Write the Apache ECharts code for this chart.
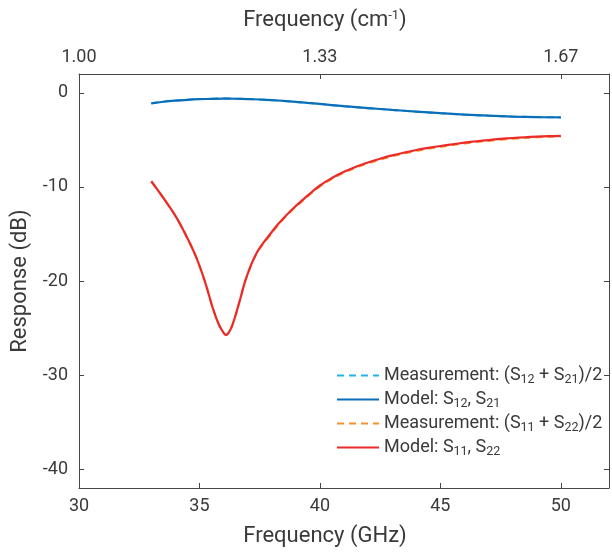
<!DOCTYPE html>
<html>
<head>
<meta charset="utf-8">
<script src="https://cdn.jsdelivr.net/npm/echarts@6/dist/echarts.min.js"></script>
<style>
html,body{margin:0;padding:0;background:#fff;}
#chart{width:612px;height:554px;}
</style>
</head>
<body>
<div id="chart"></div>
<script>
// ---- data (GHz, dB) ----
const blueModelFreq = [33.0,33.5,34.0,34.5,35.0,35.5,36.0,36.5,37.0,37.5,38.0,38.5,39.0,39.5,40.0,41.0,42.0,43.0,44.0,45.0,46.0,47.0,48.0,49.0,50.0];
const blueModelVal  = [-1.12,-0.95,-0.83,-0.74,-0.68,-0.64,-0.62,-0.63,-0.66,-0.71,-0.78,-0.86,-0.96,-1.07,-1.18,-1.42,-1.62,-1.82,-1.99,-2.16,-2.31,-2.42,-2.52,-2.58,-2.62];
const blueMeasFreq  = [33.0,33.5,34.0,34.5,35.0,35.5,36.0,36.5,37.0,37.5,38.0,38.5,39.0,39.5,40.0,41.0,42.0,43.0,44.0,45.0,46.0,47.0,48.0,49.0,50.0];
const blueMeasVal   = [-1.10,-0.94,-0.82,-0.73,-0.67,-0.63,-0.61,-0.62,-0.66,-0.71,-0.78,-0.87,-0.97,-1.08,-1.19,-1.43,-1.63,-1.83,-2.00,-2.17,-2.31,-2.43,-2.52,-2.58,-2.61];
const redModelFreq  = [33.0,33.3,33.7,34.1,34.5,34.9,35.25,35.55,35.8,36.0,36.1,36.2,36.35,36.6,36.875,37.0,37.15,37.3,37.45,37.65,37.85,38.25,38.8,39.5,40.0,40.5,41.0,41.5,42.0,42.5,43.0,43.5,44.0,44.5,45.0,45.5,46.0,46.5,47.0,47.5,48.0,48.5,49.0,49.5,50.0];
const redModelVal   = [-9.4,-10.45,-11.9,-13.5,-15.45,-17.7,-20.25,-22.85,-24.6,-25.5,-25.75,-25.55,-24.8,-22.75,-20.2,-19.25,-18.25,-17.4,-16.7,-15.95,-15.3,-14.0,-12.5,-10.9,-9.85,-9.05,-8.4,-7.85,-7.4,-7.0,-6.65,-6.35,-6.08,-5.85,-5.65,-5.47,-5.3,-5.15,-5.02,-4.9,-4.8,-4.72,-4.66,-4.61,-4.57];
const redMeasFreq   = [33.0,33.3,33.7,34.1,34.5,34.9,35.25,35.55,35.8,36.0,36.1,36.2,36.35,36.6,36.875,37.0,37.15,37.3,37.45,37.65,37.85,38.25,38.8,39.5,40.0,40.5,41.0,41.5,42.0,42.5,43.0,43.5,44.0,44.5,45.0,45.5,46.0,46.5,47.0,47.5,48.0,48.5,49.0,49.5,50.0];
const redMeasVal    = [-9.4,-10.45,-11.9,-13.5,-15.45,-17.7,-20.25,-22.85,-24.6,-25.5,-25.7,-25.5,-24.8,-22.75,-20.2,-19.25,-18.3,-17.45,-16.75,-16.05,-15.4,-14.1,-12.6,-11.0,-9.95,-9.15,-8.5,-7.95,-7.5,-7.1,-6.75,-6.45,-6.18,-5.95,-5.75,-5.56,-5.39,-5.24,-5.11,-4.99,-4.89,-4.8,-4.73,-4.68,-4.63];

const seriesNames = [
  'Measurement: (S12 + S21)/2',
  'Model: S12, S21',
  'Measurement: (S11 + S22)/2',
  'Model: S11, S22'
];
const legendRich = [
  '{t|Measurement: (S}{s|12}{t| + S}{s|21}{t|)/2}',
  '{t|Model: S}{s|12}{t|, S}{s|21}',
  '{t|Measurement: (S}{s|11}{t| + S}{s|22}{t|)/2}',
  '{t|Model: S}{s|11}{t|, S}{s|22}'
];
const xTicks = [30,35,40,45,50];
const topTickLabels = ['1.00','1.33','1.67'];
const yTicks = [0,-10,-20,-30,-40];

const FONT = '"Roboto", "Liberation Sans", sans-serif';
const TXT = '#3a3a3a';
const AX = '#454545';

function pairs(f, v){ return f.map((x,i)=>[x, v[i]]); }

const chart = echarts.init(document.getElementById('chart'), null, {renderer:'canvas'});
function axisBase(){
  return {
    axisLine:{show:true, onZero:false, lineStyle:{color:AX, width:1}},
    axisTick:{show:true, inside:true, length:5, lineStyle:{color:AX}},
    splitLine:{show:false}
  };
}
chart.setOption({
  animation:false,
  backgroundColor:'#fff',
  grid:{left:79, right:1, top:74, bottom:66, containLabel:false},
  textStyle:{fontFamily:FONT},
  legend:{
    show:true,
    orient:'vertical',
    left:331, top:360,
    itemWidth:42, itemHeight:10, itemGap:3,
    itemStyle:{opacity:0},
    data: seriesNames,
    formatter: function(name){ return legendRich[seriesNames.indexOf(name)]; },
    textStyle:{
      color:TXT, fontFamily:FONT,
      rich:{
        t:{fontSize:18, color:TXT, fontFamily:FONT, lineHeight:21},
        s:{fontSize:12.5, color:TXT, fontFamily:FONT, lineHeight:21, verticalAlign:'bottom', padding:[8,0,0,0]}
      }
    }
  },
  xAxis:[
    Object.assign(axisBase(), {
      type:'value', position:'bottom', min:30, max:52, interval:5,
      name:'Frequency (GHz)', nameLocation:'middle', nameGap:37,
      nameTextStyle:{fontSize:22, color:TXT, fontFamily:FONT, padding:[0,38,0,0]},
      axisLabel:{fontSize:18, color:TXT, margin:9, fontFamily:FONT,
        formatter:function(v){ return xTicks.indexOf(v)>=0 ? String(v) : ''; }}
    }),
    Object.assign(axisBase(), {
      type:'value', position:'top', min:30, max:52, interval:10,
      name:'{a|Frequency (cm}{p|-1}{a|)}', nameLocation:'middle', nameGap:42,
      nameTextStyle:{fontSize:22, color:TXT, fontFamily:FONT, padding:[0,38,0,0],
        rich:{a:{fontSize:22, color:TXT, fontFamily:FONT}, p:{fontSize:13, color:TXT, fontFamily:FONT, verticalAlign:'top', padding:[0,0,10,0]}}},
      axisLabel:{fontSize:18, color:TXT, margin:8, fontFamily:FONT,
        formatter:function(v){ const i=(v-30)/10; return topTickLabels[i]!==undefined ? topTickLabels[i] : ''; }}
    })
  ],
  yAxis:[
    Object.assign(axisBase(), {
      type:'value', position:'left', min:-42, max:2, interval:2,
      name:'Response (dB)', nameLocation:'middle', nameGap:43, nameRotate:90,
      nameTextStyle:{fontSize:22, color:TXT, fontFamily:FONT},
      axisTick:{show:true, inside:true, length:5, lineStyle:{color:AX}, customValues:yTicks},
      axisLabel:{fontSize:18, color:TXT, margin:11, fontFamily:FONT, customValues:yTicks}
    }),
    Object.assign(axisBase(), {
      type:'value', position:'right', min:-42, max:2, interval:2,
      axisTick:{show:true, inside:true, length:5, lineStyle:{color:AX}, customValues:yTicks},
      axisLabel:{show:false}
    })
  ],
  series:[
    {name:seriesNames[0], type:'line', data:pairs(blueMeasFreq, blueMeasVal), smooth:0.4, symbol:'none',
     lineStyle:{color:'#27B0EA', width:2, type:[7,5]}, itemStyle:{color:'#27B0EA'}, z:2},
    {name:seriesNames[1], type:'line', data:pairs(blueModelFreq, blueModelVal), smooth:0.4, symbol:'none',
     lineStyle:{color:'#0A6EB8', width:2.2}, itemStyle:{color:'#0A6EB8'}, z:3},
    {name:seriesNames[2], type:'line', data:pairs(redMeasFreq, redMeasVal), smooth:0.4, symbol:'none',
     lineStyle:{color:'#F6922A', width:2, type:[7,5]}, itemStyle:{color:'#F6922A'}, z:2},
    {name:seriesNames[3], type:'line', data:pairs(redModelFreq, redModelVal), smooth:0.4, symbol:'none',
     lineStyle:{color:'#EC2A2A', width:2.2}, itemStyle:{color:'#EC2A2A'}, z:3}
  ]
});
</script>
</body>
</html>
